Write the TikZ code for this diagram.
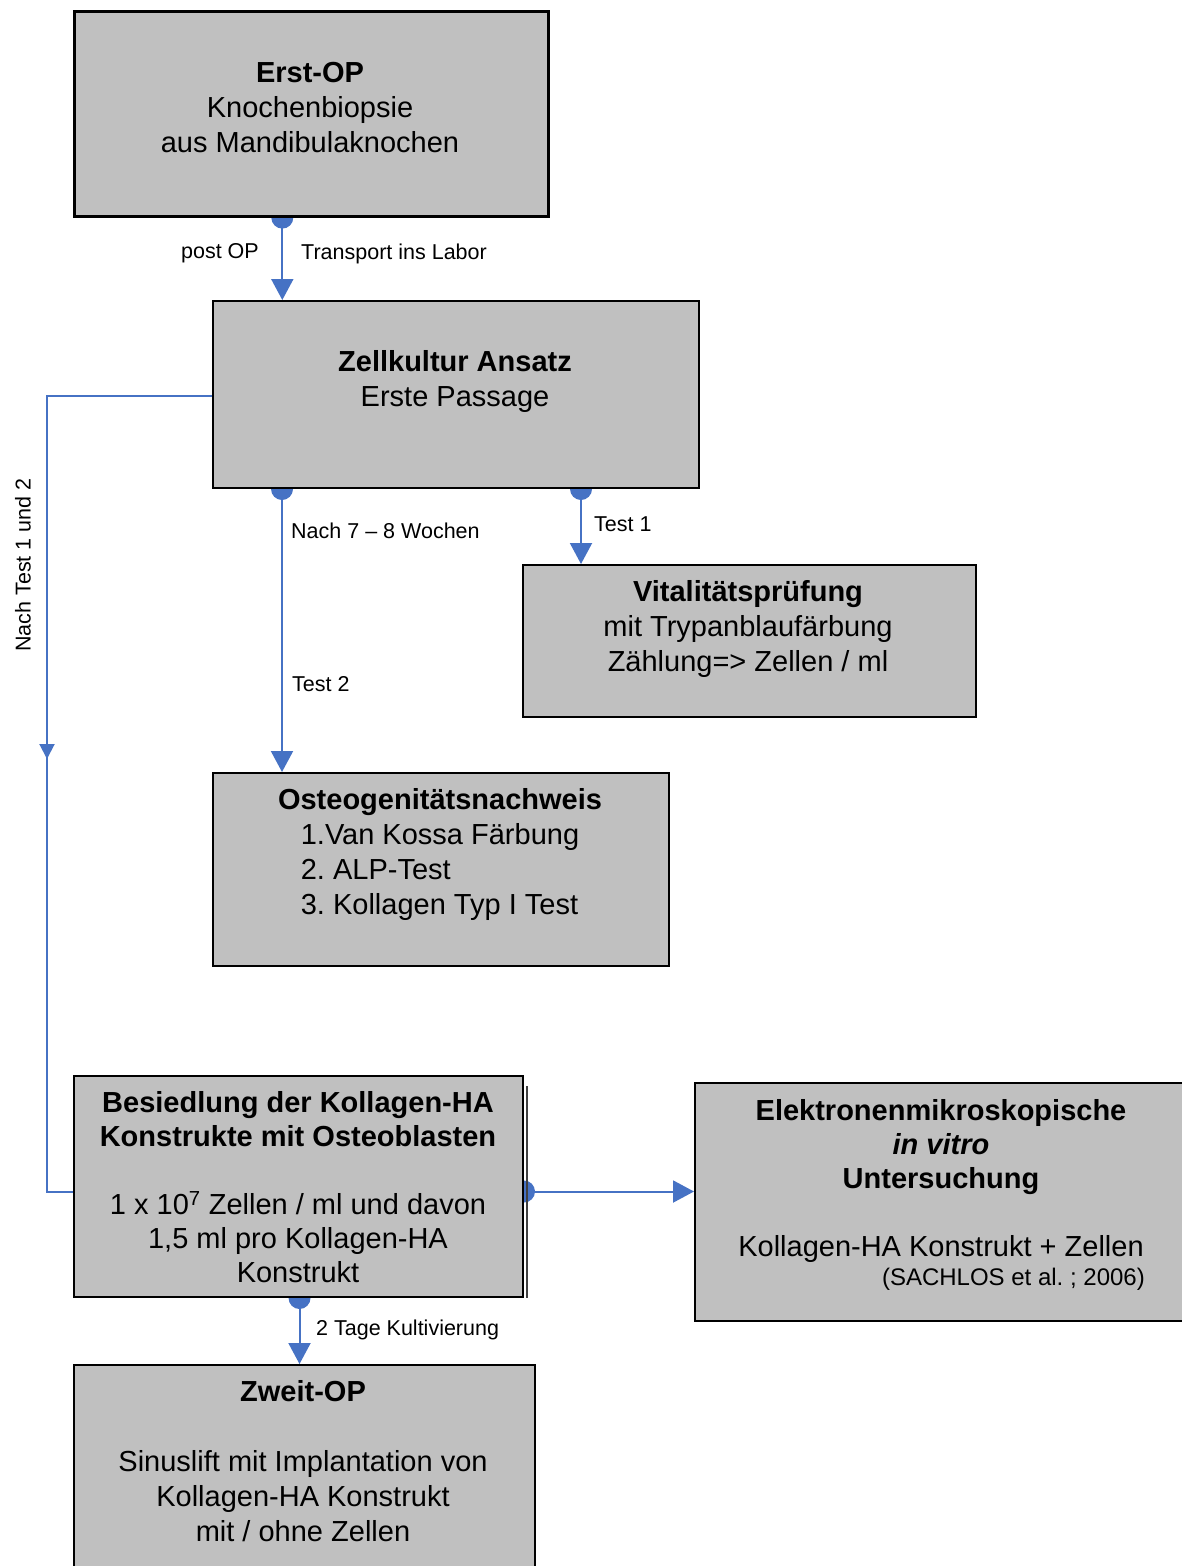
\documentclass[tikz,border=0pt]{standalone}
\usepackage{fontspec}
\setmainfont{Liberation Sans}
\usetikzlibrary{arrows.meta,backgrounds,decorations.markings}
\definecolor{boxgray}{RGB}{192,192,192}
\definecolor{connblue}{RGB}{70,114,196}
\frenchspacing
\begin{document}
\begin{tikzpicture}[x=1pt,y=-1pt,
  box/.style={draw=black, fill=boxgray, line width=2pt, inner sep=0pt, anchor=north west},
  txt/.style={inner sep=0pt, align=center, font=\fontsize{29}{35}\selectfont, anchor=north},
  txtb/.style={txt, font=\fontsize{29}{34}\selectfont},
  lbl/.style={inner sep=0pt, font=\fontsize{21.5}{25}\selectfont},
  conn/.style={draw=connblue, line width=2pt},
  arr/.style={conn, -{Triangle[length=21pt,width=22pt]}},
  dotc/.style={fill=connblue}
]
\useasboundingbox (0,0) rectangle (1182,1566);

% boxes
\node[box, line width=2.6pt, minimum width=474pt, minimum height=205pt] (erst) at (73,10) {};
\node[box, minimum width=486pt, minimum height=187pt] (zell) at (212,300) {};
\node[box, minimum width=453pt, minimum height=152pt] (vital) at (522,564) {};
\node[box, minimum width=456pt, minimum height=193pt] (osteo) at (212,772) {};
\node[box, minimum width=449pt, minimum height=221pt] (bes) at (73,1075) {};
\node[box, minimum width=500pt, minimum height=238pt] (elek) at (694,1082) {};
\node[box, minimum width=461pt, minimum height=230pt] (zweit) at (73,1364) {};
\draw[line width=1.2pt, black!75] ([xshift=3pt,yshift=-11pt]bes.north east) -- ([xshift=3pt]bes.south east);

% box texts
\node[txt] (erstT) at (310,52) {\rule{0pt}{30pt}\textbf{Erst-OP}\\Knochenbiopsie\\aus Mandibulaknochen};
\node[txt] (zellT) at (455,341) {\rule{0pt}{30pt}\textbf{Zellkultur Ansatz}\\Erste Passage};
\node[txt] (vitalT) at (748,571) {\rule{0pt}{30pt}\textbf{Vitalitätsprüfung}\\mit Trypanblaufärbung\\Zählung=> Zellen / ml};
\node[txt] (osteoT) at (440,779) {\rule{0pt}{30pt}\textbf{Osteogenitätsnachweis}\\\begin{tabular}[t]{@{}l@{}}1.Van Kossa Färbung\\2. ALP-Test\\3. Kollagen Typ I Test\end{tabular}};
\node[txtb] (besT) at (298,1082) {\rule{0pt}{30pt}\textbf{Besiedlung der Kollagen-HA}\\\textbf{Konstrukte mit Osteoblasten}\\[34pt]1 x 10\textsuperscript{7} Zellen / ml und davon\\1,5 ml pro Kollagen-HA\\Konstrukt};
\node[txtb] (elekT) at (941,1090) {\rule{0pt}{30pt}\textbf{Elektronenmikroskopische}\\\textbf{\itshape in vitro}\\\textbf{Untersuchung}\\[34pt]Kollagen-HA Konstrukt + Zellen};
\node[inner sep=0pt, anchor=base east, font=\fontsize{24}{28}\selectfont] (elekC) at (1145,1285) {(SACHLOS et al. ; 2006)};
\node[txt] (zweitT) at (303,1371) {\rule{0pt}{30pt}\textbf{Zweit-OP}\\[35pt]Sinuslift mit Implantation von\\Kollagen-HA Konstrukt\\mit / ohne Zellen};

% labels
\node[lbl, anchor=base east] (l1) at (259,258) {post OP};
\node[lbl, anchor=base west] (l2) at (301,259) {Transport ins Labor};
\node[lbl, anchor=base west] (l3) at (291,538) {Nach 7 -- 8 Wochen};
\node[lbl, anchor=base west] (l4) at (292,691) {Test 2};
\node[lbl, anchor=base west] (l5) at (594,531) {Test 1};
\node[lbl, anchor=base west] (l6) at (316,1335) {2 Tage Kultivierung};
\node[lbl, rotate=90, anchor=center] (l7) at (23,565) {Nach Test 1 und 2};

% connectors
\begin{scope}[on background layer]
  \coordinate (s1) at ([xshift=-29pt]erst.south);
  \fill[dotc] (s1) circle (11pt);
  \draw[arr] (s1) -- (s1 |- zell.north);

  \coordinate (s2) at ([xshift=-174pt]zell.south);
  \fill[dotc] (s2) circle (11pt);
  \draw[arr] (s2) -- (s2 |- osteo.north);

  \coordinate (s3) at ([xshift=125pt]zell.south);
  \fill[dotc] (s3) circle (11pt);
  \draw[arr] (s3) -- (s3 |- vital.north);

  \coordinate (s4) at ([yshift=-1.5pt]zell.west);
  \coordinate (e4) at ([yshift=-5pt]bes.west);
  \draw[conn, postaction={decorate}, decoration={markings, mark=at position 528pt with {\arrow{Triangle[length=15pt,width=15pt]}}}]
    (s4) -- ++(-165,0) |- (e4);

  \coordinate (s5) at ([yshift=-5pt]bes.east);
  \fill[dotc] (s5) circle (11pt);
  \draw[arr] (s5) -- (s5 -| elek.west);

  \coordinate (s6) at ([xshift=1pt]bes.south);
  \fill[dotc] (s6) circle (11pt);
  \draw[arr] (s6) -- (s6 |- zweit.north);
\end{scope}
\end{tikzpicture}
\end{document}
